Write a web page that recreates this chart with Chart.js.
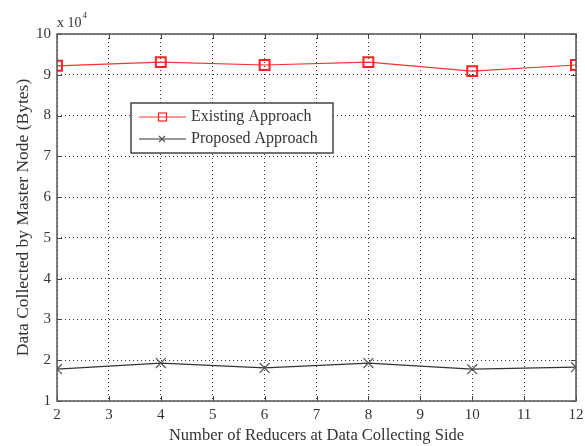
<!DOCTYPE html>
<html>
<head>
<meta charset="utf-8">
<script src="https://cdn.jsdelivr.net/npm/chart.js@4.4.1/dist/chart.umd.min.js"></script>
<style>
  html, body { margin: 0; padding: 0; background: #fff; }
  #wrap { width: 585px; height: 446px; position: relative; }
</style>
</head>
<body>
<div id="wrap"><canvas id="chart" width="585" height="446"></canvas></div>
<script>
// reducers at data collecting side
const reducers = [2, 4, 6, 8, 10, 12];
// data collected by master node, in units of 1e4 bytes
const existingApproach = [9.22, 9.31, 9.24, 9.31, 9.09, 9.24];
const proposedApproach = [1.78, 1.93, 1.81, 1.93, 1.78, 1.83];
const seriesNames = ['Existing Approach', 'Proposed Approach'];
const xTicks = [2, 3, 4, 5, 6, 7, 8, 9, 10, 11, 12];
const yTicks = [1, 2, 3, 4, 5, 6, 7, 8, 9, 10];

const FONT = '"Liberation Serif", "DejaVu Serif", serif';
const INK = '#333';

// matlab style inward ticks, exponent label and boxed legend
const matlabBits = {
    id: 'matlabBits',
    afterDraw(chart) {
        const ctx = chart.ctx;
        const a = chart.chartArea;
        const xs = chart.scales.x, ys = chart.scales.y;
        ctx.save();
        ctx.strokeStyle = '#444';
        ctx.lineWidth = 1;
        ctx.beginPath();
        xTicks.forEach(v => {
            const px = Math.round(xs.getPixelForValue(v)) + 0.5;
            ctx.moveTo(px, a.bottom); ctx.lineTo(px, a.bottom - 5);
            ctx.moveTo(px, a.top); ctx.lineTo(px, a.top + 5);
        });
        yTicks.forEach(v => {
            const py = Math.round(ys.getPixelForValue(v)) + 0.5;
            ctx.moveTo(a.left, py); ctx.lineTo(a.left + 5, py);
            ctx.moveTo(a.right, py); ctx.lineTo(a.right - 5, py);
        });
        ctx.stroke();

        // plot box
        ctx.strokeStyle = '#555';
        ctx.lineWidth = 1.5;
        ctx.strokeRect(a.left, a.top, a.right - a.left, a.bottom - a.top);

        // x 10^4
        ctx.fillStyle = INK;
        ctx.textBaseline = 'alphabetic';
        ctx.textAlign = 'left';
        ctx.font = '14px ' + FONT;
        ctx.fillText('x 10', a.left, a.top - 7);
        const w = ctx.measureText('x 10').width;
        ctx.font = '9px ' + FONT;
        ctx.fillText('4', a.left + w + 1, a.top - 16);

        // legend
        const lx = 131, ly = 103, lw = 202, lh = 50;
        ctx.fillStyle = '#fff';
        ctx.fillRect(lx, ly, lw, lh);
        ctx.strokeStyle = '#444';
        ctx.lineWidth = 1.5;
        ctx.strokeRect(lx, ly, lw, lh);
        const rows = [ly + 14, ly + 36];
        chart.data.datasets.forEach((ds, i) => {
            const y = rows[i];
            ctx.strokeStyle = ds.borderColor;
            ctx.lineWidth = 1;
            ctx.beginPath();
            ctx.moveTo(139, y); ctx.lineTo(186, y);
            ctx.stroke();
            ctx.lineWidth = 1.2;
            ctx.strokeStyle = ds.pointBorderColor;
            if (i === 0) {
                ctx.strokeRect(158.5, y - 4, 8, 8);
            } else {
                ctx.beginPath();
                ctx.moveTo(159, y - 3); ctx.lineTo(165, y + 3);
                ctx.moveTo(165, y - 3); ctx.lineTo(159, y + 3);
                ctx.stroke();
            }
            ctx.fillStyle = INK;
            ctx.font = '16px ' + FONT;
            ctx.textBaseline = 'middle';
            ctx.fillText(ds.label, 191, y);
        });
        ctx.restore();
    }
};

new Chart(document.getElementById('chart').getContext('2d'), {
    type: 'line',
    data: {
        datasets: [{
            label: seriesNames[0],
            data: reducers.map((r, i) => ({ x: r, y: existingApproach[i] })),
            borderColor: '#ff3030',
            borderWidth: 1.2,
            pointStyle: 'rect',
            pointRadius: 7,
            pointBorderWidth: 2,
            pointBorderColor: '#ff2020',
            pointBackgroundColor: 'rgba(0,0,0,0)',
            tension: 0
        }, {
            label: seriesNames[1],
            data: reducers.map((r, i) => ({ x: r, y: proposedApproach[i] })),
            borderColor: '#333',
            borderWidth: 1.2,
            pointStyle: 'crossRot',
            pointRadius: 7,
            pointBorderWidth: 1.2,
            pointBorderColor: '#555',
            tension: 0
        }]
    },
    options: {
        responsive: false,
        animation: false,
        devicePixelRatio: 1,
        layout: { padding: { top: 34, right: 0, left: 0, bottom: 0 } },
        plugins: { legend: { display: false }, tooltip: { enabled: false } },
        scales: {
            x: {
                type: 'linear', min: 2, max: 12,
                afterBuildTicks: s => { s.ticks = xTicks.map(v => ({ value: v })); },
                afterFit: s => { s.height = 45; s.paddingLeft = 0; s.paddingRight = 7; },
                grid: { color: '#333', lineWidth: 1, tickLength: 0, drawTicks: false },
                border: { display: false, dash: [1, 3] },
                ticks: { color: INK, font: { family: FONT, size: 15 }, padding: 5 },
                title: { display: true, text: 'Number of Reducers at Data Collecting Side', color: INK, font: { family: FONT, size: 16.5 }, padding: { top: 0, bottom: 0 } }
            },
            y: {
                min: 1, max: 10,
                afterBuildTicks: s => { s.ticks = yTicks.map(v => ({ value: v })); },
                afterFit: s => { s.width = 57; s.paddingTop = 0; s.paddingBottom = 0; },
                grid: { color: '#333', lineWidth: 1, drawTicks: false },
                border: { display: false, dash: [1, 3] },
                ticks: { color: INK, font: { family: FONT, size: 15 }, padding: 6 },
                title: { display: true, text: 'Data Collected by Master Node (Bytes)', color: INK, font: { family: FONT, size: 17.5 }, padding: { top: 13, bottom: 0 } }
            }
        }
    },
    plugins: [matlabBits]
});
</script>
</body>
</html>
